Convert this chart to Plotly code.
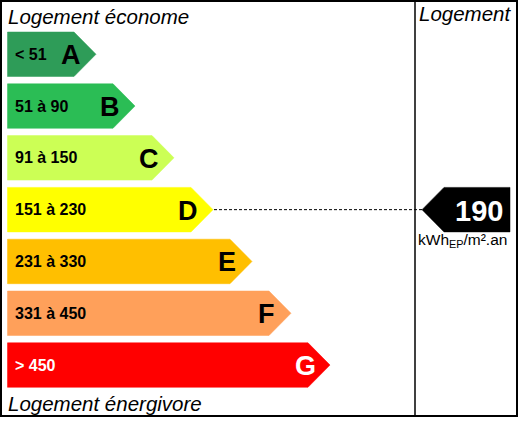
import plotly.graph_objects as go

# energy classes, top (best) to bottom (worst)
classes = ["A", "B", "C", "D", "E", "F", "G"]
ranges = ["< 51", "51 à 90", "91 à 150", "151 à 230", "231 à 330", "331 à 450", "> 450"]
upper = [50, 90, 150, 230, 330, 450, None]
colors = ["#2e9c58", "#2bbd55", "#ccff55", "#ffff00", "#ffbf00", "#ffa05a", "#ff0000"]
label_colors = ["black", "black", "black", "black", "black", "black", "white"]

value = 190
unit = "kWh<sub>EP</sub>/m².an"
top_label = "Logement économe"
bottom_label = "Logement énergivore"
side_label = "Logement"

W, H = 521, 423
FONT = "Liberation Sans, Arial, sans-serif"

# row geometry (in pixel-like axis units)
row0, row_step, row_h = 32, 51.8, 44.5
tip0, tip_step, tip_len = 96, 39, 22
left = 7.5

fig = go.Figure()

for i, cls in enumerate(classes):
    top = row0 + row_step * i
    tip = tip0 + tip_step * i
    right = tip - tip_len
    fig.add_trace(go.Scatter(
        x=[left, right, tip, right, left, left],
        y=[top, top, top + row_h / 2, top + row_h, top + row_h, top],
        mode="lines", fill="toself", fillcolor=colors[i],
        line=dict(color=colors[i], width=0.5),
        hoverinfo="skip", showlegend=False))
    fig.add_annotation(x=13, y=top + row_h / 2, text="<b>%s</b>" % ranges[i],
                       xanchor="left", yanchor="middle", showarrow=False,
                       font=dict(family=FONT, size=16, color=label_colors[i]))
    fig.add_annotation(x=tip - 25, y=top + row_h / 2 + 1, text="<b>%s</b>" % cls,
                       xanchor="center", yanchor="middle", showarrow=False,
                       font=dict(family=FONT, size=27, color=label_colors[i]))

# which class the value falls into
idx = next(i for i, u in enumerate(upper) if u is None or value <= u)
ptop = row0 + row_step * idx
pmid = ptop + row_h / 2
ptip, pleft, pright = 422, 444, 510

fig.add_trace(go.Scatter(
    x=[tip0 + tip_step * idx + 1, ptip], y=[pmid, pmid], mode="lines",
    line=dict(color="black", width=1, dash="3px,2px"),
    hoverinfo="skip", showlegend=False))
fig.add_trace(go.Scatter(
    x=[ptip, pleft, pright, pright, pleft, ptip],
    y=[pmid, ptop, ptop, ptop + row_h, ptop + row_h, pmid],
    mode="lines", fill="toself", fillcolor="black",
    line=dict(color="black", width=0.5),
    hoverinfo="skip", showlegend=False))
fig.add_annotation(x=(pleft + pright) / 2 + 2, y=pmid + 1, text="<b>%d</b>" % value,
                   xanchor="center", yanchor="middle", showarrow=False,
                   font=dict(family=FONT, size=29, color="white"))
fig.add_annotation(x=462, y=ptop + row_h + 9, text=unit,
                   xanchor="center", yanchor="middle", showarrow=False,
                   font=dict(family=FONT, size=15.5, color="black"))

# headings
fig.add_annotation(x=6, y=16, text="<i>%s</i>" % top_label, xanchor="left", yanchor="middle",
                   showarrow=False, font=dict(family=FONT, size=20.5, color="black"))
fig.add_annotation(x=6, y=403, text="<i>%s</i>" % bottom_label, xanchor="left", yanchor="middle",
                   showarrow=False, font=dict(family=FONT, size=20.5, color="black"))
fig.add_annotation(x=465, y=13, text="<i>%s</i>" % side_label, xanchor="center", yanchor="middle",
                   showarrow=False, font=dict(family=FONT, size=20.5, color="black"))

# frame and divider
fig.add_shape(type="rect", x0=1, y0=1, x1=517, y1=416, line=dict(color="black", width=2))
fig.add_shape(type="line", x0=415, y0=1, x1=415, y1=416, line=dict(color="black", width=1.5))

fig.update_xaxes(range=[0, W], visible=False, fixedrange=True)
fig.update_yaxes(range=[H, 0], visible=False, fixedrange=True)
fig.update_layout(width=W, height=H, autosize=False,
                  margin=dict(l=0, r=0, t=0, b=0),
                  plot_bgcolor="white", paper_bgcolor="white")

# page default body margin would push the figure off the window
fig.write_html("out.html", config={"displayModeBar": False},
               post_script="document.body.style.margin='0';document.body.style.overflow='hidden';")
